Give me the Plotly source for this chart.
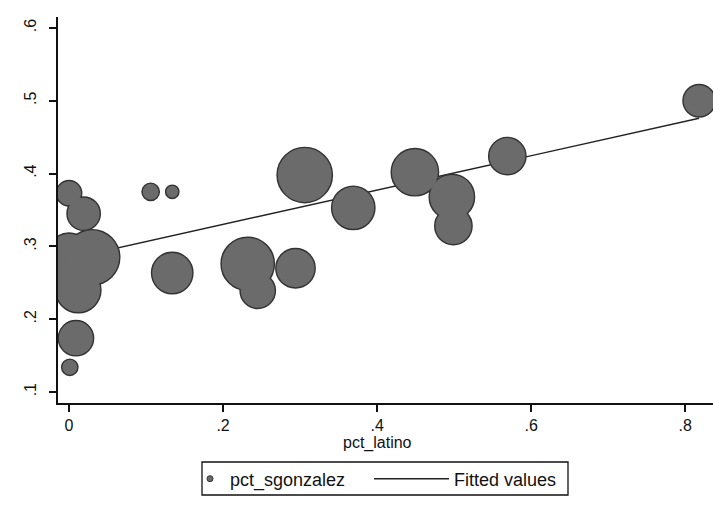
import plotly.graph_objects as go

# ---- data ----
pct_latino = [0.000, 0.019, 0.000, 0.030, 0.012, 0.000, 0.106, 0.134, 0.134,
              0.232, 0.245, 0.294, 0.306, 0.369, 0.449, 0.497, 0.499, 0.569,
              0.818, 0.009, 0.001]
pct_sgonzalez = [0.373, 0.345, 0.290, 0.285, 0.240, 0.254, 0.375, 0.375, 0.2635,
                 0.276, 0.239, 0.270, 0.398, 0.353, 0.402, 0.368, 0.328, 0.424,
                 0.500, 0.174, 0.134]
weight = [144, 256, 400, 729, 484, 289, 64, 36, 400,
          676, 289, 361, 729, 441, 529, 484, 324, 324,
          240, 289, 56]

fit_x = [0.0, 0.818]
fit_y = [0.283, 0.476]

x_ticks = [0, 0.2, 0.4, 0.6, 0.8]
x_tick_labels = ["0", ".2", ".4", ".6", ".8"]
y_ticks = [0.1, 0.2, 0.3, 0.4, 0.5, 0.6]
y_tick_labels = [".1", ".2", ".3", ".4", ".5", ".6"]

FONT = "Liberation Sans, Arial, sans-serif"
FILL = "#6b6b6b"
EDGE = "#333333"

W, H = 713, 518
L, R, T, B = 58, 0, 17, 115
PW, PH = W - L - R, H - T - B


def px_to_paper_x(px):
    return (px - L) / PW


def px_to_paper_y(py):
    return (H - B - py) / PH


fig = go.Figure()

# fitted line (drawn first so the bubbles sit on top of it)
fig.add_trace(go.Scatter(
    x=fit_x, y=fit_y, mode="lines", name="Fitted values", legend="legend2",
    line=dict(color="#222222", width=1.4),
))
# bubble outlines (underlay), so overlapping bubbles merge into one blob
fig.add_trace(go.Scatter(
    x=pct_latino, y=pct_sgonzalez, mode="markers", showlegend=False,
    hoverinfo="skip",
    marker=dict(size=weight, sizemode="area", sizeref=0.5,
                color=EDGE, line=dict(color=EDGE, width=2.8), opacity=1),
))
# bubble fills
fig.add_trace(go.Scatter(
    x=pct_latino, y=pct_sgonzalez, mode="markers", showlegend=False,
    marker=dict(size=weight, sizemode="area", sizeref=0.5,
                color=FILL, line=dict(width=0), opacity=1),
))
# legend entry for the bubbles
fig.add_trace(go.Scatter(
    x=[None], y=[None], mode="markers", name="pct_sgonzalez", legend="legend",
    marker=dict(size=6, color=FILL, line=dict(color=EDGE, width=1)),
))

leg_y = px_to_paper_y(479)
fig.update_layout(
    width=W, height=H,
    margin=dict(l=L, r=R, t=T, b=B),
    paper_bgcolor="white", plot_bgcolor="white",
    font=dict(family=FONT, size=16, color="#111111"),
    showlegend=True,
    legend=dict(
        orientation="h", x=px_to_paper_x(190), xanchor="left",
        y=leg_y, yanchor="middle", borderwidth=0, bgcolor="rgba(0,0,0,0)",
        font=dict(size=18, family=FONT), itemwidth=30,
    ),
    legend2=dict(
        orientation="h", x=px_to_paper_x(369), xanchor="left",
        y=leg_y, yanchor="middle", borderwidth=0, bgcolor="rgba(0,0,0,0)",
        font=dict(size=18, family=FONT), itemwidth=75,
    ),
    xaxis=dict(
        range=[-0.0143, 0.836], tickvals=x_ticks, ticktext=x_tick_labels,
        showgrid=False, zeroline=False, showline=True, linecolor="#111111",
        linewidth=1.5, ticks="outside", ticklen=7, tickwidth=1.5,
        tickcolor="#111111", tickfont=dict(size=16),
    ),
    yaxis=dict(
        range=[0.085, 0.615], tickvals=y_ticks, ticktext=y_tick_labels,
        showgrid=False, zeroline=False, showline=True, linecolor="#111111",
        linewidth=1.5, ticks="outside", ticklen=7, tickwidth=1.5,
        tickcolor="#111111", tickangle=-90, tickfont=dict(size=16),
        ticklabelstandoff=7,
    ),
    shapes=[dict(
        type="rect", xref="paper", yref="paper",
        x0=px_to_paper_x(202), x1=px_to_paper_x(568),
        y0=px_to_paper_y(462), y1=px_to_paper_y(495),
        line=dict(color="#111111", width=1.3), fillcolor="rgba(0,0,0,0)",
        layer="above",
    )],
    annotations=[dict(
        text="pct_latino", xref="paper", yref="paper",
        x=px_to_paper_x(377), y=px_to_paper_y(443), xanchor="center", yanchor="middle",
        showarrow=False, font=dict(size=16, family=FONT),
    )],
)

fig.write_html("out.html")
